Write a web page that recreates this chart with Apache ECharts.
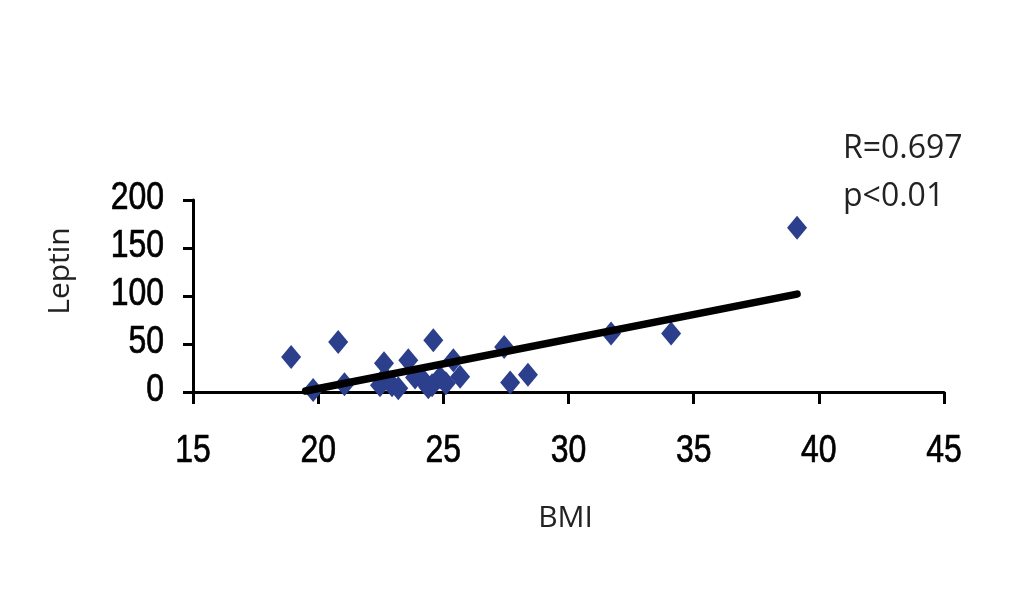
<!DOCTYPE html>
<html>
<head>
<meta charset="utf-8">
<script src="https://cdn.jsdelivr.net/npm/echarts@6/dist/echarts.min.js"></script>
<style>html,body{margin:0;padding:0;background:#fff}#c{width:1010px;height:606px}</style>
</head>
<body>
<div id="c"></div>
<script>
const bmi = [18.92, 19.8, 20.8, 21.05, 22.63, 22.47, 22.67, 22.95, 23.2, 23.6, 23.87, 24.2, 24.4, 24.6, 24.55, 24.87, 25.1, 25.4, 25.67, 27.43, 27.67, 28.38, 31.7, 34.1, 39.13];
const leptin = [36.5, 2, 52, 8, 30, 7, 15, 7, 4, 33, 15, 12, 5, 54, 7, 15, 9, 33, 16, 47, 10, 18, 61, 61, 171];
const fitX = [19.5, 39.13];
const fitY = [1, 102];
const xTicks = [15, 20, 25, 30, 35, 40, 45];
const yTicks = [0, 50, 100, 150, 200];
const statText = ['R=0.697', 'p<0.01'];
const xName = 'BMI';
const yName = 'Leptin';

const pts = bmi.map((v, i) => [v, leptin[i]]);
const fit = fitX.map((v, i) => [v, fitY[i]]);
const tickFontStr = "39px 'Liberation Sans', Arial, sans-serif";
const nameFontStr = "30px 'Open Sans','Noto Sans',sans-serif";
const statFontStr = "32px 'Open Sans','Noto Sans',sans-serif";

const chart = echarts.init(document.getElementById('c'), null, { renderer: 'canvas' });
chart.setOption({
  animation: false,
  backgroundColor: '#fff',
  grid: { left: 193, right: 66, top: 200, bottom: 214, containLabel: false },
  xAxis: {
    type: 'value', min: xTicks[0], max: xTicks[xTicks.length - 1], interval: 5,
    axisLine: { show: true, onZero: false, lineStyle: { color: '#000', width: 3 } },
    axisTick: { show: true, inside: false, length: 12, lineStyle: { color: '#000', width: 3 } },
    axisLabel: { show: false },
    splitLine: { show: false }
  },
  yAxis: {
    type: 'value', min: yTicks[0], max: yTicks[yTicks.length - 1], interval: 50,
    axisLine: { show: true, onZero: false, lineStyle: { color: '#000', width: 3 } },
    axisTick: { show: true, inside: false, length: 10, lineStyle: { color: '#000', width: 3 } },
    axisLabel: { show: false },
    splitLine: { show: false }
  },
  series: [
    {
      type: 'scatter', data: pts, symbol: 'diamond', symbolSize: [20, 24],
      itemStyle: { color: '#2B3F8C', opacity: 1 }, z: 2
    },
    {
      type: 'line', data: fit, symbol: 'none', silent: true,
      lineStyle: { color: '#000', width: 7.5, cap: 'round' }, z: 3
    }
  ]
});

// Tick labels placed through the chart's own axes (condensed look via scaleX)
const g = [];
xTicks.forEach(t => {
  const p = chart.convertToPixel({ gridIndex: 0 }, [t, yTicks[0]]);
  g.push({ type: 'text', x: p[0], y: p[1] + 59, scaleX: 0.82, silent: true,
    style: { text: String(t), font: tickFontStr, fill: '#000', stroke: '#000', lineWidth: 0.7, textAlign: 'center', textVerticalAlign: 'middle' } });
});
yTicks.forEach(t => {
  const p = chart.convertToPixel({ gridIndex: 0 }, [xTicks[0], t]);
  g.push({ type: 'text', x: p[0] - 29, y: p[1] - 2, scaleX: 0.82, silent: true,
    style: { text: String(t), font: tickFontStr, fill: '#000', stroke: '#000', lineWidth: 0.7, textAlign: 'right', textVerticalAlign: 'middle' } });
});
const xMid = chart.convertToPixel({ gridIndex: 0 }, [(xTicks[0] + xTicks[xTicks.length - 1]) / 2, yTicks[0]]);
g.push({ type: 'text', x: xMid[0] - 3, y: 518, silent: true,
  style: { text: xName, font: nameFontStr, fill: '#222', textAlign: 'center', textVerticalAlign: 'middle' } });
g.push({ type: 'text', x: 60, y: 271, rotation: Math.PI / 2, silent: true,
  style: { text: yName, font: nameFontStr, fill: '#222', textAlign: 'center', textVerticalAlign: 'middle' } });
g.push({ type: 'text', x: 843, y: 149, silent: true,
  style: { text: statText[0], font: statFontStr, fill: '#222', textAlign: 'left', textVerticalAlign: 'middle' } });
g.push({ type: 'text', x: 843, y: 197, silent: true,
  style: { text: statText[1], font: statFontStr, fill: '#222', textAlign: 'left', textVerticalAlign: 'middle' } });
chart.setOption({ graphic: g });
</script>
</body>
</html>
